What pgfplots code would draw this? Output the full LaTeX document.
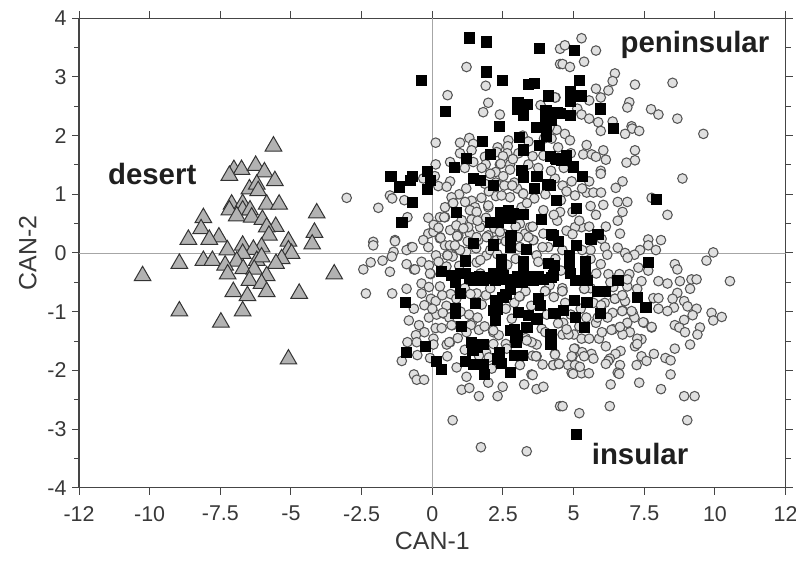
\documentclass[border=0pt]{standalone}
\usepackage{fontspec}
\setmainfont{Liberation Sans}
\usepackage{pgfplots}
\pgfplotsset{compat=1.18}
\definecolor{axc}{gray}{0.27}
\definecolor{txc}{gray}{0.22}
\definecolor{bxc}{gray}{0.12}
\definecolor{cfill}{gray}{0.88}
\definecolor{cdraw}{gray}{0.33}
\definecolor{tfill}{gray}{0.70}
\begin{document}
\begin{tikzpicture}[x=1bp,y=1bp]
\useasboundingbox (0,0) rectangle (796,561);
\begin{axis}[at={(79bp,73.3bp)},anchor=south west,scale only axis,width=706.6bp,height=469.4bp,
 xmin=-12.5,xmax=12.5,ymin=-4,ymax=4,
 xtick={-12.5,-10,-7.5,-5,-2.5,0,2.5,5,7.5,10,12.5},
 xticklabels={-12,-10,-7.5,-5,-2.5,0,2.5,5,7.5,10,12},
 ytick={-4,-3,-2,-1,0,1,2,3,4},
 yticklabels={-4,-3,-2,-1,0,1,2,3,4},
 minor y tick num=1,
 tick align=outside,
 major tick length=7bp,minor tick length=5bp,
 tick style={color=axc,line width=1bp},
 axis line style={color=axc,line width=1.2bp},
 tick label style={font=\fontsize{21.5}{21.5}\selectfont,color=txc},
 xticklabel style={yshift=-8bp},
 yticklabel style={xshift=-2bp},
 xlabel={CAN-1},ylabel={CAN-2},
 label style={font=\fontsize{25}{25}\selectfont,color=txc},
 xlabel style={yshift=-4bp},
 ylabel style={yshift=4bp},
]
\addplot[gray!70,line width=0.8bp,forget plot] coordinates {(-12.5,0)(12.5,0)};
\addplot[gray!70,line width=0.8bp,forget plot] coordinates {(0,-4)(0,4)};
% circles
\addplot[only marks,mark=*,mark size=4.8bp,mark options={fill=cfill,draw=cdraw,line width=1.05bp}] coordinates {
(1.21,3.17)(1.89,2.85)(0.54,2.69)(1.98,2.56)(1.80,2.40)(2.39,2.36)(4.52,3.48)(4.52,3.22)(4.36,2.65)(3.83,2.52)
(0.12,1.88)(1.31,1.96)(0.98,1.88)(1.45,1.86)(1.39,1.75)(2.69,1.92)(2.67,1.82)(2.31,1.80)(2.28,1.72)(2.65,1.70)
(1.86,1.64)(3.93,1.66)(0.12,1.51)(0.63,1.55)(1.89,1.51)(2.39,1.51)(2.75,1.51)(3.40,1.51)(2.75,1.42)(2.24,1.38)
(-0.32,1.27)(0.09,1.31)(0.63,1.22)(0.21,1.14)(0.51,1.13)(1.86,1.18)(2.51,1.31)(2.81,1.15)(2.25,0.97)(3.20,1.02)
(3.61,0.93)(-3.03,0.94)(-1.91,0.77)(-1.50,0.98)(-1.42,0.93)(-0.99,0.90)(-0.88,0.61)(-0.14,0.60)(0.45,0.78)(0.71,0.93)
(0.72,0.85)(1.39,0.89)(1.74,0.94)(1.16,0.87)(1.51,0.78)(1.98,0.78)(1.33,0.73)(1.57,0.70)(0.27,0.61)(0.45,0.61)
(1.39,0.57)(1.04,0.56)(3.93,0.73)(3.16,0.78)(0.04,0.38)(-0.14,0.33)(-1.32,0.22)(-2.09,0.19)(0.27,0.27)(0.92,0.30)
(1.33,0.33)(1.27,0.44)(1.98,0.30)(2.51,0.33)(3.28,0.33)(3.58,0.22)(3.93,0.33)(3.46,0.44)(0.63,0.39)(1.69,0.44)
(1.63,0.22)(2.28,0.22)(3.10,0.50)
(-2.09,0.13)(-1.32,0.20)(-0.75,0.10)(-0.91,0.05)(-1.37,0.02)(-1.43,-0.06)(-1.76,-0.13)(-2.18,-0.16)(-2.44,-0.28)(-1.50,-0.32)
(-0.91,-0.19)(-0.65,-0.28)(-0.38,-0.15)(-0.12,-0.21)(-0.06,-0.36)(-2.35,-0.69)(-1.42,-0.69)(-0.91,-0.61)(-0.38,-0.52)(-0.12,-0.58)
(0.27,-0.57)(-0.38,-0.69)(-0.05,-0.78)(0.12,-0.82)(-0.65,-0.95)(-0.28,-0.89)(-0.83,-1.15)(-0.12,-1.10)(0.39,-1.03)(-0.47,-1.23)
(-0.28,-1.35)(-0.58,-1.40)(0.12,-1.28)(0.33,-1.28)(0.71,-1.23)(-0.88,-1.52)(-0.55,-1.52)(0.04,-1.46)(0.04,-1.56)(0.63,-1.52)
(0.51,-1.56)(-0.53,-1.74)(-1.08,-1.84)(-0.08,-1.79)(0.53,-1.76)(0.86,-1.95)(-0.65,-2.07)(-0.55,-2.16)(-0.29,-2.16)(1.21,-2.11)
(1.04,-2.33)(1.31,-2.30)(1.98,-2.21)(1.65,-2.44)(2.31,-2.44)(2.49,-2.28)(3.25,-2.24)(3.51,-2.07)(3.69,-2.32)(3.93,-2.28)
(0.72,-2.85)(1.72,-3.31)(3.34,-3.38)(4.52,-2.61)(3.69,-1.76)(4.28,-1.91)(3.10,-1.91)(2.10,-1.97)(1.90,-1.69)(2.16,-1.55)
(1.65,-1.31)(1.39,-1.20)(2.16,-1.35)(3.69,-1.56)(3.51,-1.52)(4.34,-1.72)(3.87,-1.29)(2.81,-1.12)(3.10,-0.74)(4.02,-0.64)
(1.57,-0.69)(-0.32,0.22)(0.04,0.36)(-0.14,0.10)(0.27,0.25)(0.45,0.13)(0.89,0.28)(0.80,0.11)(0.96,0.05)(0.13,-0.04)
(0.53,-0.04)(1.57,-0.16)(1.92,-0.04)(3.57,0.22)(4.10,0.10)(3.69,-0.04)(1.57,0.27)(1.92,0.27)(3.40,0.27)(2.45,0.30)
(5.28,3.66)(4.69,3.54)(5.79,3.45)(5.37,3.26)(4.61,3.22)(4.87,3.17)(6.46,3.06)(6.38,2.93)(7.17,2.87)(8.50,2.90)
(5.79,2.80)(6.23,2.77)(5.96,2.65)(4.34,2.65)(5.55,2.60)(6.97,2.57)(6.90,2.48)(7.74,2.45)(8.00,2.36)(8.67,2.29)
(5.13,2.46)(5.28,2.36)(5.55,2.29)(5.87,2.23)(6.38,2.24)(5.96,2.08)(7.05,2.16)(7.07,2.12)(7.32,2.08)(6.82,2.03)
(9.59,2.03)(4.69,2.03)(4.87,1.92)(4.22,1.95)(5.46,1.84)(6.05,1.75)(7.17,1.75)(5.34,1.68)(5.64,1.68)(5.79,1.64)
(6.14,1.59)(7.17,1.58)(6.87,1.54)(5.96,1.40)(5.96,1.35)(8.85,1.27)(6.73,1.22)(5.55,1.22)(4.93,1.22)(4.61,1.15)
(4.34,1.27)(6.49,1.11)(5.46,1.03)(5.70,1.03)(5.97,1.03)(5.05,0.98)(7.76,0.94)(6.05,0.82)(6.56,0.87)(6.90,0.87)
(6.73,0.70)(4.52,0.70)(5.79,0.65)(4.96,0.70)(8.32,0.65)(4.42,0.55)(6.56,0.55)(5.28,0.44)(5.05,0.44)(6.14,0.45)
(4.75,0.38)(6.64,0.33)(4.96,0.32)(7.64,0.23)(8.09,0.22)(5.99,0.24)
(7.64,0.13)(7.91,0.05)(9.94,0.01)(9.70,-0.13)(7.35,0.05)(7.15,-0.03)(6.82,0.00)(6.91,-0.08)(6.56,0.09)(6.11,0.10)
(6.19,-0.03)(5.60,0.05)(5.96,-0.19)(8.58,-0.19)(8.67,-0.28)(7.29,-0.25)(7.64,-0.30)(6.97,-0.36)(6.23,-0.36)(6.62,-0.36)
(7.40,-0.48)(8.00,-0.48)(8.32,-0.52)(8.76,-0.48)(9.17,-0.45)(9.35,-0.45)(10.53,-0.48)(9.12,-0.61)(6.90,-0.57)(7.25,-0.61)
(6.40,-0.58)(4.61,-0.65)(5.37,-0.61)(8.67,-0.68)(8.50,-0.78)(7.82,-0.77)(8.00,-0.77)(6.73,-0.73)(6.46,-0.78)(6.82,-0.82)
(8.91,-0.82)(9.03,-0.91)(8.55,-0.93)(9.35,-0.95)(8.00,-0.95)(8.32,-0.99)(5.96,-0.89)(6.73,-0.98)(6.38,-1.02)(7.09,-1.02)
(9.88,-1.02)(10.24,-1.09)(9.94,-1.15)(9.21,-1.06)(8.91,-1.14)(7.15,-1.10)(7.49,-1.19)(6.90,-1.19)(7.76,-1.27)(8.58,-1.23)
(8.74,-1.27)(9.47,-1.27)(8.94,-1.35)(9.38,-1.39)(6.64,-1.27)(6.40,-1.30)(6.99,-1.35)(6.73,-1.39)(5.79,-1.19)(4.63,-1.19)
(4.61,-1.39)(5.01,-1.39)(4.82,-1.39)(5.28,-1.46)(5.55,-1.46)(5.90,-1.46)(7.40,-1.47)(7.25,-1.46)(9.12,-1.56)(6.14,-1.59)
(7.17,-1.59)(7.25,-1.55)(8.58,-1.63)(5.05,-1.63)(6.66,-1.67)(6.48,-1.72)(5.30,-1.69)(5.63,-1.72)(7.84,-1.72)(4.34,-1.73)
(4.96,-1.76)(5.37,-1.76)(5.70,-1.80)(7.40,-1.76)(8.25,-1.79)(8.43,-1.83)(7.58,-1.84)(6.28,-1.80)(6.22,-1.84)(6.14,-1.89)
(6.64,-1.91)(7.23,-1.91)(4.28,-1.91)(4.49,-1.89)(4.81,-1.91)(5.05,-1.91)(6.56,-2.04)(4.93,-2.04)(5.28,-2.05)(5.54,-2.05)
(8.43,-2.07)(6.31,-2.24)(7.32,-2.21)(8.09,-2.32)(8.91,-2.44)(9.28,-2.44)(4.61,-2.61)(6.28,-2.61)(5.20,-2.73)(9.02,-2.85)
(0.62,0.13)(0.72,-0.06)(0.05,0.48)(0.22,0.43)(0.85,0.47)(1.1,0.42)(1.25,0.20)(1.55,0.08)(1.2,0.02)(1.7,-0.12)
(2.05,0.05)(2.3,-0.02)(0.95,-0.22)(0.5,-0.23)(0.22,-0.15)(0.65,-0.7)(0.5,-0.9)(0.85,-0.78)(1.15,-0.6)(1.35,-0.7)
(1.9,-0.72)(1.75,-0.88)(1.3,-1.05)(1.6,-1.1)(1.85,-1.25)(1.0,-1.0)(0.6,-1.1)(0.15,-1.05)(0.0,-0.95)(0.35,-0.72)
(0.9,-1.45)(1.15,-1.65)(1.65,-1.75)(2.6,-1.55)(2.35,-1.4)(2.0,-1.78)(3.3,-1.45)(3.55,-1.75)(3.9,-1.9)(4.0,-1.35)
(4.05,-1.05)(3.5,-0.9)(3.3,-0.65)(3.45,-0.45)(2.9,-0.85)(2.6,-0.95)(2.05,-0.6)(1.7,-0.35)(2.65,-0.2)(2.95,-0.1)
(3.1,0.1)(3.9,0.1)(3.75,-0.15)(4.35,-0.1)(4.55,-0.3)(4.6,-0.6)(4.3,-0.75)(4.15,-0.55)(4.7,-0.85)(4.45,-1.2)
(4.9,-1.05)(4.75,-1.3)(5.25,-0.95)(5.6,-0.6)(5.7,-0.85)(5.45,-1.1)(5.2,-1.25)(5.85,-1.1)(6.2,-1.1)(6.1,-0.85)
(6.3,-0.5)(5.8,-0.35)(5.6,-0.1)(5.3,0.05)(4.6,0.05)(6.0,-1.35)(6.9,-0.45)
(3.0,1.1)(3.35,0.85)(2.75,0.95)(2.45,0.98)(2.0,1.05)(1.2,1.1)(0.95,1.0)(2.25,1.2)(2.9,1.2)(4.0,1.0)
(4.3,0.65)(3.55,0.45)(2.95,0.45)(2.6,0.2)(2.2,0.42)(1.9,0.6)(1.6,0.55)(4.55,0.9)(4.75,1.05)(5.2,0.55)
(5.55,0.45)(5.6,0.8)(5.3,1.1)(4.2,1.4)(3.75,1.45)(3.05,1.7)(3.55,1.65)(2.85,1.6)(2.5,1.65)(2.05,1.35)
(2.55,1.15)(1.75,1.45)(1.45,1.55)(1.15,1.45)(0.98,1.7)(3.2,2.0)(3.4,1.9)(4.4,2.1)(4.45,1.8)(4.65,1.45)
(4.9,1.7)(3.95,1.95)(4.15,2.15)
(0.42,0.61)(0.68,0.95)(0.74,0.85)(1.98,0.81)(0.29,0.26)(0.88,0.29)(0.98,0.05)(0.54,-0.04)(0.8,0.13)(2.42,1.52)
(2.83,1.15)(3.22,1.01)(2.39,0.36)(3.04,0.27)(-0.7,0.1)(-0.61,-0.28)(-0.08,-0.35)(0.37,-1.02)(0.68,-1.23)(1.36,-1.23)
(0.6,-1.52)(3.08,-0.74)(2.16,-1.32)(2.63,-1.63)(1.21,-1.35)(3.34,-1.49)(4.6,-0.65)(3.99,-0.65)(5.38,-0.61)(6.46,-0.78)
(6.72,-0.72)(5.97,-0.89)(6.34,-1.31)(6.72,-0.99)(7.05,-0.99)(7.46,-1.18)(7.76,-1.26)(6.64,-1.26)(5.02,-1.63)(4.93,-1.76)
(4.48,-1.89)(5.22,-1.94)(4.98,-2.06)(6.61,-2.06)(3.67,-1.76)(3.55,-2.08)
};
% squares
\addplot[only marks,mark=square*,mark size=5.1bp,mark options={fill=black,draw=black}] coordinates {
(1.31,3.67)(1.92,3.60)(3.77,3.49)(-0.39,2.94)(1.92,3.09)(2.46,2.94)(3.40,2.87)(3.61,2.90)(4.09,2.68)(0.45,2.42)
(3.02,2.57)(3.02,2.46)(3.36,2.53)(3.22,2.35)(2.38,2.16)(4.01,2.43)(4.01,2.29)(3.69,2.15)(4.04,2.15)(4.04,1.99)
(4.40,2.39)(3.07,1.98)(1.77,1.90)(3.77,1.84)(3.22,1.76)(2.06,1.68)(1.21,1.61)(4.16,1.65)(4.40,1.60)(0.77,1.46)
(-0.17,1.39)(-1.47,1.31)(-0.71,1.31)(-0.79,1.24)(-0.08,1.24)(-1.16,1.13)(-0.17,1.09)(1.45,1.28)(1.69,1.24)(2.15,1.16)
(3.16,1.41)(3.22,1.30)(3.69,1.31)(4.08,1.17)(3.61,1.10)(4.37,0.90)(-0.70,0.86)(0.84,0.69)(-1.08,0.53)(3.84,0.57)
(2.39,0.70)(2.69,0.73)(2.87,0.67)(2.45,0.59)(2.75,0.59)(3.22,0.66)(2.04,0.53)(2.33,0.53)(2.78,0.30)(4.22,0.32)
(5.01,3.45)(5.20,2.95)(4.89,2.76)(5.25,2.68)(4.89,2.59)(5.93,2.46)(4.52,2.38)(4.87,2.35)(4.22,2.26)(6.40,2.13)
(4.34,1.61)(4.75,1.66)(4.58,1.58)(4.99,1.47)(5.31,1.31)(5.08,0.76)(7.93,0.91)(4.16,1.15)(5.85,0.32)(5.58,0.25)
(1.45,0.17)(2.16,0.14)(2.75,0.27)(2.75,0.10)(3.31,0.06)(1.16,-0.13)(4.28,0.30)(0.31,-0.31)(0.68,-0.38)(1.16,-0.35)
(0.80,-0.49)(1.45,-0.47)(1.80,-0.47)(2.16,-0.35)(2.45,-0.24)(2.45,-0.10)(2.51,-0.38)(2.22,-0.47)(2.87,-0.47)(3.22,-0.35)
(3.22,-0.15)(3.16,-0.49)(3.57,-0.47)(3.93,-0.44)(4.10,-0.18)(4.28,-0.38)(2.75,-0.61)(2.49,-0.75)(2.22,-0.81)(1.51,-0.86)
(0.98,-0.69)(0.80,-0.95)(0.80,-1.03)(-0.97,-0.84)(3.75,-0.78)(3.81,-0.89)(2.16,-0.98)(2.22,-1.15)(3.04,-1.01)(3.40,-1.06)
(3.69,-1.12)(4.34,-1.03)(1.01,-1.25)(3.34,-1.26)(2.75,-1.32)(2.92,-1.43)(2.98,-1.52)(4.16,-1.38)(4.16,-1.55)(1.39,-1.52)
(1.78,-1.55)(1.43,-1.66)(-0.24,-1.59)(-0.93,-1.69)(0.15,-1.84)(0.31,-1.98)(1.16,-1.84)(1.45,-1.90)(1.80,-1.90)(1.84,-2.06)
(2.36,-1.70)(2.45,-1.88)(2.90,-1.74)(3.16,-1.74)(2.76,-2.03)
(4.46,0.20)(5.08,0.13)(5.61,0.24)(7.64,-0.16)(4.85,-0.04)(4.85,-0.18)(5.40,-0.15)(5.40,-0.27)(4.30,-0.21)(4.22,-0.41)
(4.87,-0.35)(5.05,-0.47)(5.46,-0.47)(6.56,-0.47)(5.85,-0.65)(6.11,-0.65)(5.01,-0.80)(5.46,-0.84)(7.25,-0.75)(7.55,-0.92)
(5.93,-1.03)(4.28,-1.03)(4.63,-0.98)(5.05,-1.10)(5.38,-1.26)(4.22,-1.38)(4.22,-1.55)(5.08,-3.09)
(1.0,-0.35)(1.3,-0.42)(1.65,-0.4)(2.0,-0.42)(2.6,-0.45)(3.0,-0.4)(3.4,-0.4)(3.75,-0.4)(2.35,-0.45)(2.6,-0.7)
(2.3,-0.95)(2.9,-1.3)(3.0,-1.4)(1.6,-1.6)(1.6,-1.9)(2.3,-1.8)
};
% triangles
\addplot[only marks,mark=triangle*,mark size=9.6bp,mark options={fill=tfill,draw=black!80,line width=1bp}] coordinates {
(-5.62,1.82)(-7.02,1.42)(-6.75,1.42)(-7.18,1.32)(-6.25,1.49)(-5.94,1.38)(-5.57,1.23)(-6.47,1.09)(-6.21,1.17)(-6.16,1.06)
(-7.10,0.83)(-6.71,0.84)(-7.18,0.73)(-5.86,0.83)(-5.42,0.83)(-6.71,0.73)(-6.45,0.73)(-6.92,0.63)(-6.39,0.61)(-8.10,0.60)
(-6.01,0.57)(-4.09,0.68)(-8.18,0.41)(-5.54,0.45)(-5.86,0.44)(-4.17,0.35)(-5.78,0.30)(-7.55,0.27)(-7.89,0.23)(-8.63,0.23)
(-5.09,0.20)(-4.25,0.15)(-6.71,0.13)(-7.25,0.05)(-6.04,0.10)(-6.33,0.06)(-5.09,0.05)(-4.98,-0.01)(-6.71,-0.01)(-5.33,-0.10)
(-8.10,-0.13)(-7.78,-0.13)(-8.95,-0.18)(-6.92,-0.14)(-6.21,-0.13)(-6.04,-0.07)(-7.33,-0.21)(-6.69,-0.27)(-5.53,-0.18)(-6.30,-0.28)
(-7.24,-0.36)(-5.86,-0.39)(-10.25,-0.39)(-3.47,-0.36)(-6.47,-0.47)(-6.04,-0.52)(-7.04,-0.66)(-5.86,-0.66)(-4.71,-0.69)(-6.54,-0.73)
(-8.95,-0.99)(-6.71,-0.99)(-7.48,-1.18)(-5.09,-1.81)
};
\node[font=\fontsize{29.5}{29.5}\selectfont\bfseries,color=bxc] at (axis cs:-9.91,1.35) {desert};
\node[font=\fontsize{29.5}{29.5}\selectfont\bfseries,color=bxc] at (axis cs:9.29,3.54) {peninsular};
\node[font=\fontsize{29.5}{29.5}\selectfont\bfseries,color=bxc] at (axis cs:7.35,-3.42) {insular};
\end{axis}
\end{tikzpicture}
\end{document}
